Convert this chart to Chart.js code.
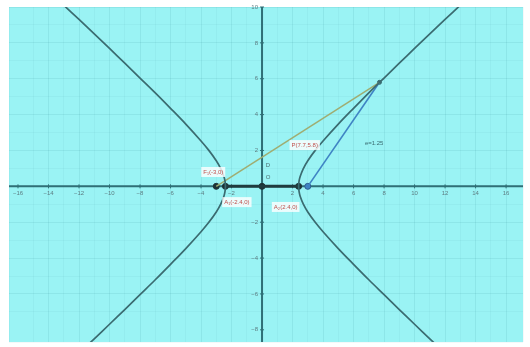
<!DOCTYPE html>
<html>
<head>
<meta charset="utf-8">
<style>
  html, body { margin: 0; padding: 0; background: #ffffff; }
  #wrap { width: 530px; height: 347px; }
</style>
<script src="https://cdn.jsdelivr.net/npm/chart.js@4/dist/chart.umd.min.js"></script>
</head>
<body>
<div id="wrap"><canvas id="c" width="530" height="347"></canvas></div>
<script>
// Right branch of the hyperbola, read point by point (bottom to top)
const rightBranchX = [12, 11, 10, 9, 8, 7, 6, 5, 4, 3.5, 3, 2.7, 2.5, 2.43, 2.4, 2.43, 2.5, 2.7, 3, 3.5, 4, 5, 6, 7, 7.7, 8, 9, 10, 11, 12, 13, 14];
const rightBranchY = [-9.31, -8.5, -7.69, -6.87, -6.04, -5.21, -4.35, -3.47, -2.53, -2.02, -1.43, -0.98, -0.55, -0.3, 0, 0.3, 0.55, 0.98, 1.43, 2.02, 2.53, 3.47, 4.35, 5.21, 5.8, 6.04, 6.87, 7.69, 8.5, 9.31, 10.1, 10.9];
// Left branch of the hyperbola (bottom to top)
const leftBranchX = [-12, -11, -10, -9, -8, -7, -6, -5, -4, -3.5, -3, -2.7, -2.5, -2.43, -2.4, -2.43, -2.5, -2.7, -3, -3.5, -4, -5, -6, -7, -8, -9, -10, -11, -12, -13, -14];
const leftBranchY = [-9.31, -8.5, -7.69, -6.87, -6.04, -5.21, -4.35, -3.47, -2.53, -2.02, -1.43, -0.98, -0.55, -0.3, 0, 0.3, 0.55, 0.98, 1.43, 2.02, 2.53, 3.47, 4.35, 5.21, 6.04, 6.87, 7.69, 8.5, 9.31, 10.1, 10.9];

// Foci, vertices and the point P on the curve
const focus1 = [-3, 0];
const focus2 = [3, 0];
const vertex1 = [-2.4, 0];
const vertex2 = [2.4, 0];
const origin = [0, 0];
const pointP = [7.7, 5.8];

// Axis tick labels
const xTickLabels = [-16, -14, -12, -10, -8, -6, -4, -2, 2, 4, 6, 8, 10, 12, 14, 16];
const yTickLabels = [-8, -6, -4, -2, 2, 4, 6, 8, 10];

// Text annotations: text and anchor point (data units)
const noteTexts = ["F\u2081(-3,0)", "A\u2081(-2.4,0)", "A\u2082(2.4,0)", "P(7.7,5.8)", "e=1.25"];
const noteX = [-3.2, -1.65, 1.55, 2.8, 7.35];
const noteY = [0.8, -0.88, -1.15, 2.3, 2.42];

const toPts = (xs, ys) => xs.map((x, i) => ({ x: x, y: ys[i] }));
const pt = p => ({ x: p[0], y: p[1] });

const CYAN = 'rgb(154,243,244)';
const CURVE = '#3a6b70';
const AXIS = '#2f6f76';

const backdrop = {
  id: 'backdrop',
  beforeDraw(chart) {
    const { ctx, chartArea: a } = chart;
    ctx.save();
    ctx.fillStyle = '#ffffff';
    ctx.fillRect(0, 0, chart.width, chart.height);
    ctx.fillStyle = CYAN;
    ctx.fillRect(a.left, a.top, a.right - a.left, a.bottom - a.top);
    ctx.restore();
  }
};

const axesAndText = {
  id: 'axesAndText',
  beforeDatasetsDraw(chart) {
    const { ctx, chartArea: a, scales: { x, y } } = chart;
    const x0 = x.getPixelForValue(0), y0 = y.getPixelForValue(0);
    ctx.save();
    ctx.strokeStyle = AXIS;
    ctx.lineWidth = 2;
    ctx.beginPath();
    ctx.moveTo(a.left, y0); ctx.lineTo(a.right, y0);
    ctx.moveTo(x0, a.top); ctx.lineTo(x0, a.bottom);
    ctx.stroke();
    // tick marks and labels
    ctx.lineWidth = 1;
    ctx.fillStyle = '#5d7d82';
    ctx.font = '6px "Liberation Sans", Arial, sans-serif';
    ctx.textAlign = 'center';
    ctx.textBaseline = 'top';
    xTickLabels.forEach(v => {
      const px = x.getPixelForValue(v);
      ctx.beginPath(); ctx.moveTo(px, y0 - 2); ctx.lineTo(px, y0 + 2); ctx.stroke();
      ctx.fillText(String(v).replace('-', '\u2212'), px, y0 + 4);
    });
    ctx.textAlign = 'right';
    ctx.textBaseline = 'middle';
    yTickLabels.forEach(v => {
      const py = y.getPixelForValue(v);
      ctx.beginPath(); ctx.moveTo(x0 - 2, py); ctx.lineTo(x0 + 2, py); ctx.stroke();
      ctx.fillText(String(v).replace('-', '\u2212'), x0 - 4, py);
    });
    ctx.restore();
  },
  afterDatasetsDraw(chart) {
    const { ctx, scales: { x, y } } = chart;
    ctx.save();
    ctx.font = '6px "Liberation Sans", Arial, sans-serif';
    ctx.textAlign = 'center';
    ctx.textBaseline = 'middle';
    noteTexts.forEach((t, i) => {
      const px = x.getPixelForValue(noteX[i]);
      const py = y.getPixelForValue(noteY[i]);
      const w = ctx.measureText(t).width + 4;
      const last = i === noteTexts.length - 1;
      if (!last) {
        ctx.fillStyle = 'rgba(255,255,255,0.8)';
        ctx.fillRect(px - w / 2, py - 5, w, 10);
        ctx.fillStyle = '#c0504d';
      } else {
        ctx.fillStyle = '#3a6b70';
      }
      ctx.fillText(t, px, py);
    });
    // small labels near the y-axis
    ctx.fillStyle = '#4d6f74';
    ctx.textAlign = 'left';
    ctx.fillText('D', x.getPixelForValue(0.25), y.getPixelForValue(1.15));
    ctx.fillText('O', x.getPixelForValue(0.25), y.getPixelForValue(0.5));
    ctx.restore();
  }
};

const gridColor = ctx => {
  const v = ctx.tick ? ctx.tick.value : 0;
  return (Math.round(v) % 2 === 0) ? 'rgba(30,120,130,0.10)' : 'rgba(30,120,130,0.05)';
};

new Chart(document.getElementById('c'), {
  type: 'scatter',
  data: {
    datasets: [
      { data: toPts(rightBranchX, rightBranchY), showLine: true, borderColor: CURVE, borderWidth: 1.7, pointRadius: 0, tension: 0.35, fill: false },
      { data: toPts(leftBranchX, leftBranchY), showLine: true, borderColor: CURVE, borderWidth: 1.7, pointRadius: 0, tension: 0.35, fill: false },
      { data: [pt(focus1), pt(pointP)], showLine: true, borderColor: '#9fad72', borderWidth: 1.5, pointRadius: 0 },
      { data: [pt(focus2), pt(pointP)], showLine: true, borderColor: '#3f84c4', borderWidth: 1.6, pointRadius: 0 },
      { data: [pt(vertex1), pt(vertex2)], showLine: true, borderColor: '#1f3b3e', borderWidth: 3, pointRadius: 0 },
      { data: [pt(focus1), pt(vertex1), pt(origin), pt(vertex2)], showLine: false, pointRadius: 3, pointBackgroundColor: '#1c3336', pointBorderColor: '#1c3336' },
      { data: [pt(focus2)], showLine: false, pointRadius: 3, pointBackgroundColor: '#3f84c4', pointBorderColor: '#2d5f8f' },
      { data: [pt(pointP)], showLine: false, pointRadius: 2, pointBackgroundColor: '#3a6b70', pointBorderColor: '#3a6b70' }
    ]
  },
  options: {
    responsive: false,
    devicePixelRatio: 1,
    animation: false,
    layout: { padding: { left: 9, right: 7, top: 7, bottom: 0 } },
    plugins: { legend: { display: false }, tooltip: { enabled: false } },
    scales: {
      x: {
        type: 'linear', min: -16.59, max: 17.11,
        ticks: { display: false, stepSize: 1 },
        grid: { color: gridColor, drawTicks: false, lineWidth: 1 },
        border: { display: false }
      },
      y: {
        type: 'linear', min: -8.68, max: 10.0,
        ticks: { display: false, stepSize: 1 },
        grid: { color: gridColor, drawTicks: false, lineWidth: 1 },
        border: { display: false }
      }
    }
  },
  plugins: [backdrop, axesAndText]
});
</script>
</body>
</html>
